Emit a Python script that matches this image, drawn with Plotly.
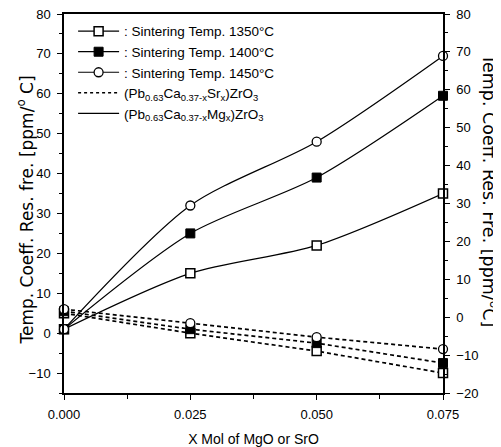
import plotly.graph_objects as go

# ---- data ----
x_mol = [0.0, 0.025, 0.050, 0.075]

# (Pb0.63Ca0.37-xMgx)ZrO3  (solid lines)
mg_1350 = [1.0, 15.0, 22.0, 35.0]
mg_1400 = [1.0, 25.0, 39.0, 59.5]
mg_1450 = [1.0, 32.0, 48.0, 69.5]

# (Pb0.63Ca0.37-xSrx)ZrO3  (dashed lines)
sr_1350 = [5.0, 0.0, -4.5, -10.0]
sr_1400 = [5.5, 1.0, -2.5, -7.5]
sr_1450 = [6.0, 2.5, -1.0, -4.0]

legend_temps = [": Sintering Temp. 1350\u00b0C", ": Sintering Temp. 1400\u00b0C", ": Sintering Temp. 1450\u00b0C"]
legend_sr = "(Pb<sub>0.63</sub>Ca<sub>0.37-x</sub>Sr<sub>x</sub>)ZrO<sub>3</sub>"
legend_mg = "(Pb<sub>0.63</sub>Ca<sub>0.37-x</sub>Mg<sub>x</sub>)ZrO<sub>3</sub>"

x_title = "X Mol of MgO or SrO"
y_title_left = "Temp. Coeff. Res. fre. [ppm/<sup>o</sup> C]"
y_title_right = "Temp. Coeff. Res. Fre. [ppm/<sup>o</sup>C]"

FONT = "Arial, Liberation Sans, Helvetica, sans-serif"
TFONT = "DejaVu Sans, Arial, sans-serif"
BLACK = "black"

markers = [
    dict(symbol="square", size=9, color="white", line=dict(width=1.5, color=BLACK)),
    dict(symbol="square", size=9, color=BLACK, line=dict(width=1, color=BLACK)),
    dict(symbol="circle", size=9, color="white", line=dict(width=1.3, color=BLACK)),
]

fig = go.Figure()

mg_series = [mg_1350, mg_1400, mg_1450]
sr_series = [sr_1350, sr_1400, sr_1450]

for ys in sr_series:
    fig.add_trace(go.Scatter(x=x_mol, y=ys, mode="lines",
                             line=dict(color=BLACK, width=1.7, dash="4px,3px"),
                             showlegend=False, hoverinfo="skip"))
for ys in mg_series:
    fig.add_trace(go.Scatter(x=x_mol, y=ys, mode="lines",
                             line=dict(color=BLACK, width=1.2, shape="spline", smoothing=0.8),
                             showlegend=False, hoverinfo="skip"))
for i in range(3):
    for ys in (sr_series[i], mg_series[i]):
        fig.add_trace(go.Scatter(x=x_mol, y=ys, mode="markers", marker=markers[i],
                                 showlegend=False, cliponaxis=False))

# legend entries
for i in range(3):
    fig.add_trace(go.Scatter(x=[None], y=[None], mode="lines+markers", name=legend_temps[i],
                             marker=markers[i], line=dict(color=BLACK, width=1.2)))
fig.add_trace(go.Scatter(x=[None], y=[None], mode="lines", name=legend_sr,
                         line=dict(color=BLACK, width=1.4, dash="3px,3px")))
fig.add_trace(go.Scatter(x=[None], y=[None], mode="lines", name=legend_mg,
                         line=dict(color=BLACK, width=1.2)))
# dummy for right axis
fig.add_trace(go.Scatter(x=[None], y=[None], yaxis="y2", showlegend=False))

axis_common = dict(showline=True, linecolor=BLACK, linewidth=1.5, ticks="outside",
                   tickcolor=BLACK, tickwidth=1.2, ticklen=5, showgrid=False, zeroline=False,
                   automargin=False, ticklabelstandoff=4, ticklabeloverflow="allow",
                   tickfont=dict(family=FONT, size=13, color=BLACK))

# page body has an 8px default margin, so the figure is sized/offset to compensate
fig.update_layout(
    width=493, height=439,
    margin=dict(l=56, r=58, t=6, b=54),
    paper_bgcolor="white", plot_bgcolor="white",
    font=dict(family=FONT, color=BLACK),
    xaxis=dict(range=[0, 0.075], tickvals=[0, 0.025, 0.05, 0.075], tickformat=".3f",
               mirror=True, minor=dict(dtick=0.0125, ticks="outside", ticklen=4, tickcolor=BLACK),
               title=dict(text=x_title, font=dict(family=FONT, size=14, color=BLACK), standoff=14),
               **axis_common),
    yaxis=dict(range=[-15, 80], dtick=10, tick0=0,
               minor=dict(dtick=5, ticks="outside", ticklen=3, tickcolor=BLACK),
               **axis_common),
    yaxis2=dict(range=[-20, 80], dtick=10, tick0=0, overlaying="y", side="right",
                minor=dict(dtick=5, ticks="outside", ticklen=3, tickcolor=BLACK),
                **axis_common),
    legend=dict(x=0.024, y=0.995, xanchor="left", yanchor="top", bgcolor="rgba(0,0,0,0)",
                font=dict(family=FONT, size=13.5, color=BLACK), tracegroupgap=0,
                itemwidth=41, borderwidth=0),
    annotations=[
        dict(text=y_title_left, xref="paper", yref="paper", x=-0.103, y=0.484,
             textangle=-90, showarrow=False, xanchor="center", yanchor="middle",
             font=dict(family=TFONT, size=17, color=BLACK)),
        dict(text=y_title_right, xref="paper", yref="paper", x=1.124, y=0.535,
             textangle=90, showarrow=False, xanchor="center", yanchor="middle",
             font=dict(family=TFONT, size=17.5, color=BLACK)),
    ],
)

fig.write_html("out.html")
